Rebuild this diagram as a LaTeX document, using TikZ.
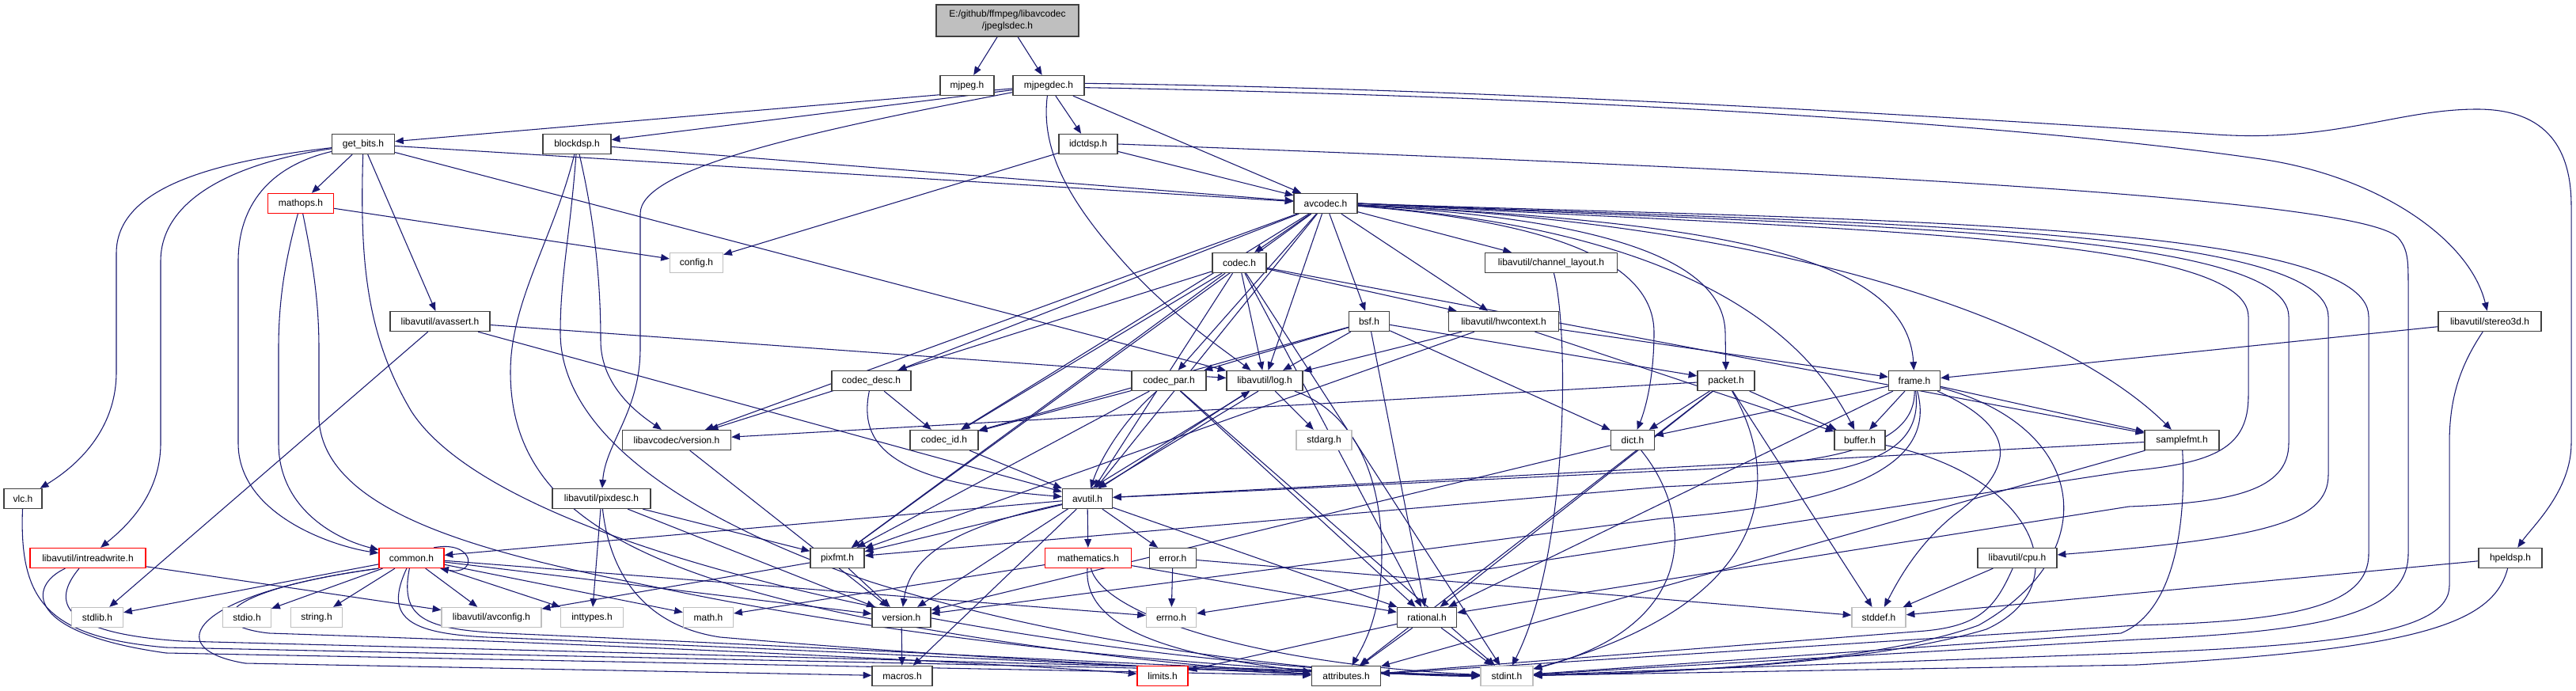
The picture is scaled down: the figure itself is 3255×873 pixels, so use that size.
\documentclass[tikz,border=0pt]{standalone}
\usepackage{fontspec}
\setmainfont{Liberation Sans}
\usetikzlibrary{arrows.meta}
\pgfdeclarelayer{bg}
\pgfsetlayers{bg,main}
\definecolor{edgec}{RGB}{25,25,112}
\definecolor{nodeb}{RGB}{64,64,64}
\definecolor{redb}{RGB}{255,0,0}
\definecolor{grayb}{RGB}{191,191,191}
\definecolor{rootf}{RGB}{191,191,191}
\begin{document}
\begin{tikzpicture}[x=0.75pt,y=-0.75pt,
  nb/.style={draw=nodeb, line width=1pt, fill=white, inner sep=0pt, minimum height=18.75pt, font=\fontsize{9pt}{11pt}\selectfont, align=center, text=black},
  rb/.style={nb, draw=redb},
  gb/.style={nb, draw=grayb},
  bw/.style={minimum width=#1*0.75pt},
  ed/.style={draw=edgec, line width=0.8pt, -{Triangle[length=8pt,width=6.5pt]}}]
\useasboundingbox (0,0) rectangle (3255,873);
% nodes
\node[nb,bw=180,minimum height=30pt,fill=rootf] (root) at (1273,26) {E:/github/ffmpeg/libavcodec\\/jpeglsdec.h};
\node[nb,bw=68] (mjpeg) at (1222,108) {mjpeg.h};
\node[nb,bw=90] (mjpegdec) at (1325,108) {mjpegdec.h};
\node[nb,bw=79] (getbits) at (459,182) {get\_bits.h};
\node[nb,bw=86] (blockdsp) at (729,182) {blockdsp.h};
\node[nb,bw=74] (idctdsp) at (1375,182) {idctdsp.h};
\node[nb,bw=80] (avcodec) at (1675,257) {avcodec.h};
\node[rb,bw=83] (mathops) at (380,257) {mathops.h};
\node[gb,bw=67] (config) at (880,332) {config.h};
\node[nb,bw=68] (codec) at (1566,332) {codec.h};
\node[nb,bw=167] (chl) at (1960,332) {libavutil/channel\_layout.h};
\node[nb,bw=126] (avassert) at (556,406) {libavutil/avassert.h};
\node[nb,bw=51] (bsf) at (1730,406) {bsf.h};
\node[nb,bw=139] (hwctx) at (1900,406) {libavutil/hwcontext.h};
\node[nb,bw=130] (stereo) at (3146,406) {libavutil/stereo3d.h};
\node[nb,bw=100] (codecdesc) at (1101,481) {codec\_desc.h};
\node[nb,bw=94] (codecpar) at (1477,481) {codec\_par.h};
\node[nb,bw=96] (log) at (1598,481) {libavutil/log.h};
\node[nb,bw=72] (packet) at (2181,481) {packet.h};
\node[nb,bw=65] (frame) at (2419,481) {frame.h};
\node[nb,bw=137] (lcversion) at (855,556) {libavcodec/version.h};
\node[nb,bw=86] (codecid) at (1193,556) {codec\_id.h};
\node[gb,bw=70] (stdarg) at (1673,556) {stdarg.h};
\node[nb,bw=55] (dict) at (2063,556) {dict.h};
\node[nb,bw=64] (buffer) at (2350,556) {buffer.h};
\node[nb,bw=94] (samplefmt) at (2757,556) {samplefmt.h};
\node[nb,bw=48] (vlc) at (29,630) {vlc.h};
\node[nb,bw=124] (pixdesc) at (760,630) {libavutil/pixdesc.h};
\node[nb,bw=63] (avutil) at (1374,630) {avutil.h};
\node[rb,bw=146] (intrw) at (111,705) {libavutil/intreadwrite.h};
\node[rb,bw=82] (common) at (520,705) {common.h};
\node[nb,bw=68] (pixfmt) at (1058,705) {pixfmt.h};
\node[rb,bw=109] (mathem) at (1375,705) {mathematics.h};
\node[nb,bw=59] (error) at (1482,705) {error.h};
\node[nb,bw=100] (cpu) at (2549,705) {libavutil/cpu.h};
\node[nb,bw=80] (hpeldsp) at (3172,705) {hpeldsp.h};
\node[gb,bw=65] (stdlib) at (123,780) {stdlib.h};
\node[gb,bw=61] (stdio) at (312,780) {stdio.h};
\node[gb,bw=65] (string) at (400,780) {string.h};
\node[gb,bw=126] (avconfig) at (621,780) {libavutil/avconfig.h};
\node[gb,bw=79] (inttypes) at (748,780) {inttypes.h};
\node[gb,bw=63] (math) at (895,780) {math.h};
\node[nb,bw=74] (version) at (1139,780) {version.h};
\node[gb,bw=63] (errno) at (1480,780) {errno.h};
\node[nb,bw=75] (rational) at (1803,780) {rational.h};
\node[gb,bw=68] (stddef) at (2374,780) {stddef.h};
\node[nb,bw=76] (macros) at (1140,854) {macros.h};
\node[rb,bw=64] (limits) at (1469,854) {limits.h};
\node[nb,bw=87] (attributes) at (1701,854) {attributes.h};
\node[gb,bw=66] (stdint) at (1904,854) {stdint.h};
\begin{pgfonlayer}{bg}
\fill[white] (0,0) rectangle (3255,873);
% root
\draw[ed] (root) -- (mjpeg);
\draw[ed] (root) -- (mjpegdec);
% mjpegdec
\draw[ed] (mjpegdec) -- (getbits);
\draw[ed] (mjpegdec) -- (blockdsp);
\draw[ed] (mjpegdec) .. controls (1000,170) and (809,215) .. (809,270) -- (809,440) .. controls (809,520) and (765,560) .. (pixdesc);
\draw[ed] (mjpegdec) .. controls (1316,180) and (1340,240) .. (1410,320) .. controls (1470,390) and (1530,430) .. (log);
\draw[ed] (mjpegdec) -- (idctdsp);
\draw[ed] (mjpegdec) -- (avcodec);
\draw[ed] ([yshift=-2pt]mjpegdec.east) .. controls (1900,120) and (2500,150) .. (2850,200) .. controls (3000,220) and (3120,300) .. (stereo);
\draw[ed] ([yshift=2pt]mjpegdec.east) .. controls (1900,112) and (2500,150) .. (2800,170) .. controls (2950,180) and (3030,138) .. (3130,138) .. controls (3220,138) and (3249,190) .. (3249,260) -- (3249,560) .. controls (3249,620) and (3200,665) .. (hpeldsp);
% get_bits
\draw[ed] (getbits) .. controls (260,205) and (147,240) .. (147,320) -- (147,470) .. controls (147,545) and (95,590) .. (vlc);
\draw[ed] (getbits) .. controls (300,205) and (203,250) .. (203,330) -- (203,560) .. controls (203,625) and (160,665) .. (intrw);
\draw[ed] (getbits) .. controls (340,210) and (301,260) .. (301,330) -- (301,560) .. controls (301,650) and (420,690) .. (common);
\draw[ed] (getbits) -- (mathops);
\draw[ed] (getbits) .. controls (455,320) and (460,420) .. (520,520) .. controls (650,720) and (1400,845) .. (stdint);
\draw[ed] (getbits) -- (avassert);
\draw[ed] (getbits) -- (avcodec);
\draw[ed] (getbits) -- (log);
% mathops
\draw[ed] (mathops) -- (config);
\draw[ed] (mathops) .. controls (360,330) and (352,380) .. (352,440) -- (352,560) .. controls (352,640) and (420,680) .. (common);
\draw[ed] (mathops) .. controls (395,330) and (403,380) .. (403,440) -- (403,530) .. controls (410,650) and (620,700) .. (820,740) .. controls (1200,820) and (1600,850) .. (stdint);
% blockdsp
\draw[ed] (blockdsp) -- (avcodec);
\draw[ed] (blockdsp) .. controls (752,280) and (759,360) .. (759,430) .. controls (759,490) and (810,525) .. (lcversion);
\draw[ed] (blockdsp) .. controls (700,300) and (645,380) .. (645,470) .. controls (645,620) and (760,700) .. (1000,760) .. controls (1250,820) and (1550,845) .. (attributes);
\draw[ed] (blockdsp) .. controls (720,300) and (708,350) .. (708,420) .. controls (708,540) and (850,650) .. (1100,735) .. controls (1400,830) and (1750,855) .. (stdint);
% idctdsp
\draw[ed] (idctdsp) -- (config);
\draw[ed] (idctdsp) -- (avcodec);
\draw[ed] (idctdsp.east) .. controls (2300,215) and (2980,250) .. (3030,300) .. controls (3043,315) and (3043,330) .. (3043,360) -- (3043,700) .. controls (3043,780) and (2920,798) .. (2700,808) -- (stdint);
% avcodec
\draw[ed] (avcodec) -- (codec);
\draw[ed] (avcodec) -- (codecdesc);
\draw[ed] (avcodec) -- (codecpar);
\draw[ed] (avcodec) -- (codecid);
\draw[ed] (avcodec) -- (lcversion);
\draw[ed] (avcodec) -- (log);
\draw[ed] (avcodec) -- (pixfmt);
\draw[ed] (avcodec) -- (avutil);
\draw[ed] (avcodec) -- (bsf);
\draw[ed] (avcodec) -- (hwctx);
\draw[ed] (avcodec) -- (chl);
\draw[ed] (avcodec) .. controls (1960,280) and (2090,330) .. (2090,420) .. controls (2090,480) and (2078,520) .. (dict);
\draw[ed] (avcodec) .. controls (2000,275) and (2178,320) .. (2180,420) -- (packet);
\draw[ed] (avcodec) .. controls (2060,285) and (2260,380) .. (buffer);
\draw[ed] (avcodec) .. controls (2160,280) and (2410,320) .. (frame);
\draw[ed] (avcodec) .. controls (2300,285) and (2620,420) .. (samplefmt);
\draw[ed] (avcodec.east) .. controls (2300,290) and (2841,295) .. (2841,400) -- (2841,500) .. controls (2841,565) and (2800,585) .. (2690,595) -- (errno);
\draw[ed] (avcodec.east) .. controls (2300,285) and (2892,288) .. (2892,400) -- (2892,560) .. controls (2892,620) and (2820,635) .. (2690,640) -- (rational);
\draw[ed] (avcodec.east) .. controls (2300,282) and (2942,282) .. (2942,400) -- (2942,600) .. controls (2942,660) and (2860,680) .. (cpu);
\draw[ed] (avcodec.east) .. controls (2300,278) and (2993,276) .. (2993,400) -- (2993,700) .. controls (2993,765) and (2900,785) .. (2700,790) -- (attributes);
% codec
\draw[ed] (codec) -- (avutil);
\draw[ed] (codec) -- (hwctx);
\draw[ed] (codec) -- (log);
\draw[ed] (codec) -- (pixfmt);
\draw[ed] (codec) -- (rational);
\draw[ed] (codec) -- (samplefmt);
\draw[ed] (codec) -- (codecid);
\draw[ed] (codec) -- (lcversion);
\draw[ed] (codec) -- (stdint);
% codec_desc, codec_id, codec_par
\draw[ed] (codecdesc) .. controls (1085,560) and (1120,610) .. (avutil);
\draw[ed] (codecdesc) -- (codecid);
\draw[ed] (codecid) -- (avutil);
\draw[ed] (codecpar) -- (codecid);
\draw[ed] (codecpar) .. controls (1420,530) and (1390,580) .. (avutil);
\draw[ed] (codecpar) -- (pixfmt);
\draw[ed] (codecpar) -- (rational);
\draw[ed] (codecpar) -- (stdint);
% bsf
\draw[ed] (bsf) -- (dict);
\draw[ed] (bsf) -- (log);
\draw[ed] (bsf) -- (rational);
\draw[ed] (bsf) -- (codecid);
\draw[ed] (bsf) -- (codecpar);
\draw[ed] (bsf) -- (packet);
% packet
\draw[ed] (packet) -- (stddef);
\draw[ed] (packet) -- (attributes);
\draw[ed] (packet) -- (buffer);
\draw[ed] (packet) -- (dict);
\draw[ed] (packet) -- (rational);
\draw[ed] (packet) -- (lcversion);
\draw[ed] (packet) .. controls (2250,600) and (2250,760) .. (stdint);
% libavcodec/version
\draw[ed] (lcversion) -- (version);
% hwcontext
\draw[ed] (hwctx) -- (buffer);
\draw[ed] (hwctx) -- (frame);
\draw[ed] (hwctx) -- (log);
\draw[ed] (hwctx) -- (pixfmt);
% frame
\draw[ed] (frame) -- (dict);
\draw[ed] (frame) -- (buffer);
\draw[ed] (frame) -- (samplefmt);
\draw[ed] (frame) -- (rational);
\draw[ed] (frame) .. controls (2420,570) and (2300,588) .. (2100,595) -- (avutil);
\draw[ed] (frame) .. controls (2432,585) and (2330,605) .. (2100,615) -- (pixfmt);
\draw[ed] (frame) .. controls (2452,600) and (2300,640) .. (2100,655) -- (version);
\draw[ed] (frame) .. controls (2550,540) and (2550,590) .. (2470,650) .. controls (2420,690) and (2395,740) .. (stddef);
\draw[ed] (frame) .. controls (2640,540) and (2660,700) .. (2500,790) .. controls (2360,840) and (2100,850) .. (stdint);
% samplefmt
\draw[ed] (samplefmt) -- (avutil);
\draw[ed] (samplefmt) -- (attributes);
\draw[ed] (samplefmt) .. controls (2762,650) and (2752,770) .. (2680,800) -- (stdint);
% channel_layout, dict, buffer, cpu
\draw[ed] (chl) .. controls (1983,420) and (1982,700) .. (stdint);
\draw[ed] (dict) .. controls (2140,650) and (2150,790) .. (stdint);
\draw[ed] (dict) -- (version);
\draw[ed] (buffer) .. controls (2570,600) and (2630,740) .. (2510,795) .. controls (2360,840) and (2100,850) .. (stdint);
\draw[ed] (cpu) -- (stddef);
\draw[ed] (cpu) .. controls (2520,770) and (2500,793) .. (2420,798) -- (attributes);
% stereo3d, hpeldsp
\draw[ed] (stereo) -- (frame);
\draw[ed] (stereo) .. controls (3110,460) and (3095,500) .. (3095,560) -- (3095,740) .. controls (3095,800) and (2950,815) .. (2700,825) -- (stdint);
\draw[ed] (hpeldsp) -- (stddef);
\draw[ed] (hpeldsp) .. controls (3150,790) and (3050,820) .. (2700,840) -- (stdint);
% log
\draw[ed] (log) -- (stdarg);
\draw[ed] ([xshift=-6pt]log.south) -- ([xshift=10pt]avutil.north);
\draw[ed] ([xshift=4pt]avutil.north) -- ([xshift=-14pt]log.south);
\draw[ed] (log) .. controls (1710,520) and (1746,600) .. (1746,700) .. controls (1746,780) and (1720,820) .. (attributes);
\draw[ed] (log) -- (version);
% avutil
\draw[ed] (avutil) -- (common);
\draw[ed] (avutil) -- (error);
\draw[ed] (avutil) -- (rational);
\draw[ed] (avutil) -- (macros);
\draw[ed] (avutil) -- (pixfmt);
\draw[ed] (avutil) -- (mathem);
\draw[ed] (avutil) .. controls (1210,665) and (1150,700) .. (version);
% avassert
\draw[ed] (avassert) -- (stdlib);
\draw[ed] (avassert) -- (avutil);
\draw[ed] (avassert) -- (log);
% pixdesc
\draw[ed] (pixdesc) -- (inttypes);
\draw[ed] (pixdesc) -- (pixfmt);
\draw[ed] (pixdesc) -- (version);
\draw[ed] (pixdesc) .. controls (770,720) and (810,790) .. (910,805) .. controls (1200,830) and (1500,845) .. (attributes);
% pixfmt, version
\draw[ed] (pixfmt) -- (avconfig);
\draw[ed] (pixfmt) -- (version);
\draw[ed] (version) -- (macros);
% mathematics
\draw[ed] (mathem) -- (math);
\draw[ed] (mathem) -- (rational);
\draw[ed] (mathem) .. controls (1368,800) and (1500,830) .. (attributes);
\draw[ed] (mathem) .. controls (1395,780) and (1600,840) .. (stdint);
% error, rational
\draw[ed] (error) -- (errno);
\draw[ed] (error) -- (stddef);
\draw[ed] (rational) -- (stdint);
\draw[ed] (rational) -- (limits);
\draw[ed] (rational) -- (attributes);
% vlc, intreadwrite
\draw[ed] (vlc) .. controls (24,760) and (60,805) .. (210,818) -- (stdint);
\draw[ed] (intrw) -- (avconfig);
\draw[ed] (intrw) .. controls (35,740) and (30,800) .. (210,825) -- (attributes);
\draw[ed] (intrw) .. controls (65,760) and (75,800) .. (230,810) -- (stdint);
% common
\draw[ed] (common) -- (stdlib);
\draw[ed] (common) -- (stdio);
\draw[ed] (common) -- (string);
\draw[ed] (common) -- (avconfig);
\draw[ed] (common) -- (inttypes);
\draw[ed] (common) -- (math);
\draw[ed] (common) -- (version);
\draw[ed] (common) -- (errno);
\draw[ed] (common.south west) .. controls (240,750) and (200,820) .. (310,838) -- (macros);
\draw[ed] (common.south west) .. controls (280,745) and (250,790) .. (340,800) .. controls (800,815) and (1300,840) .. (limits);
\draw[ed] (common) .. controls (485,780) and (515,800) .. (615,805) .. controls (1000,820) and (1400,840) .. (attributes);
\draw[ed] (common) .. controls (505,780) and (535,795) .. (635,800) .. controls (1100,820) and (1600,850) .. (stdint);
\draw[ed] (common.25) .. controls (600,682) and (605,728) .. (common.-20);
\end{pgfonlayer}
\end{tikzpicture}
\end{document}
